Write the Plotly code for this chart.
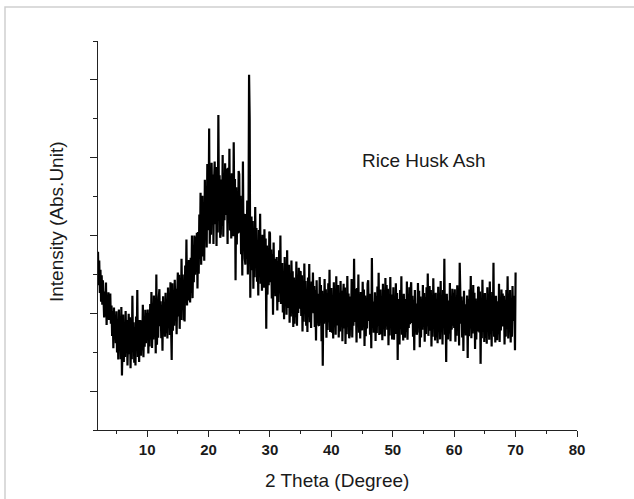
import plotly.graph_objects as go

# XRD scan of rice husk ash: 2-theta from 2.0 to 70.0 deg, step 0.1 deg
theta_start = 2.0
theta_step = 0.1

# Intensity (arbitrary units), one row per degree
intensity = [
    458, 372, 436, 352, 412, 330, 398, 322, 385, 318,   # 2
    289, 356, 292, 379, 270, 334, 284, 354, 283, 339,   # 3
    351, 273, 320, 242, 305, 210, 315, 241, 284, 223,   # 4
    305, 199, 278, 181, 310, 222, 284, 182, 316, 140,   # 5
    206, 297, 175, 256, 188, 306, 224, 283, 166, 270,   # 6
    299, 195, 290, 159, 259, 182, 345, 218, 277, 173,   # 7
    265, 166, 292, 206, 360, 188, 252, 175, 283, 215,   # 8
    191, 282, 205, 322, 187, 273, 214, 309, 223, 300,   # 9
    242, 310, 197, 301, 215, 324, 233, 355, 211, 283,   # 10
    233, 346, 264, 328, 197, 400, 219, 305, 237, 341,   # 11
    362, 267, 331, 236, 322, 204, 344, 254, 313, 240,   # 12
    353, 249, 330, 235, 366, 280, 344, 244, 380, 267,   # 13
    180, 377, 255, 336, 268, 386, 304, 363, 246, 350,   # 14
    405, 292, 399, 260, 368, 283, 440, 335, 400, 282,   # 15
    385, 279, 423, 332, 490, 320, 394, 333, 437, 366,   # 16
    328, 443, 353, 500, 339, 448, 380, 500, 399, 497,   # 17
    410, 507, 364, 509, 402, 554, 441, 610, 425, 529,   # 18
    602, 446, 577, 435, 643, 515, 618, 469, 684, 514,   # 19
    526, 775, 479, 607, 502, 687, 565, 657, 478, 639,   # 20
    690, 529, 676, 473, 627, 508, 810, 564, 655, 494,   # 21
    504, 644, 525, 707, 497, 630, 539, 686, 553, 672,   # 22
    632, 478, 674, 541, 723, 513, 611, 492, 660, 555,   # 23
    498, 740, 547, 645, 385, 624, 477, 610, 505, 666,   # 24
    657, 507, 602, 452, 582, 397, 690, 468, 556, 441,   # 25
    425, 555, 440, 590, 400, 530, 913, 800, 340, 540,   # 26
    549, 411, 537, 363, 495, 393, 573, 441, 519, 381,   # 27
    478, 346, 514, 400, 556, 376, 460, 358, 502, 412,   # 28
    366, 516, 408, 492, 260, 474, 348, 462, 372, 510,   # 29
    506, 380, 464, 338, 452, 296, 482, 362, 440, 344,   # 30
    362, 445, 307, 434, 329, 462, 351, 500, 324, 412,   # 31
    429, 302, 401, 285, 445, 340, 418, 296, 462, 324,   # 32
    314, 425, 276, 375, 292, 436, 336, 408, 265, 392,   # 33
    273, 384, 290, 433, 268, 373, 301, 417, 312, 406,   # 34
    408, 293, 398, 253, 363, 278, 428, 318, 383, 268,   # 35
    362, 252, 392, 297, 427, 277, 347, 262, 382, 307,   # 36
    405, 300, 370, 265, 360, 230, 385, 285, 350, 270,   # 37
    268, 393, 303, 373, 228, 358, 165, 348, 273, 388,   # 38
    287, 362, 237, 352, 257, 377, 277, 412, 252, 332,   # 39
    365, 250, 340, 235, 380, 285, 355, 245, 395, 270,   # 40
    273, 373, 238, 328, 253, 383, 293, 358, 228, 343,   # 41
    376, 261, 366, 221, 331, 246, 396, 286, 351, 236,   # 42
    243, 343, 258, 388, 238, 333, 268, 440, 278, 363,   # 43
    335, 225, 365, 270, 400, 250, 320, 235, 355, 280,   # 44
    256, 381, 291, 361, 216, 346, 241, 336, 261, 376,   # 45
    385, 280, 350, 245, 340, 210, 442, 265, 330, 250,   # 46
    279, 354, 229, 344, 249, 369, 269, 404, 244, 324,   # 47
    361, 246, 336, 231, 376, 281, 351, 241, 391, 266,   # 48
    373, 258, 363, 218, 328, 243, 393, 283, 348, 233,   # 49
    267, 367, 232, 322, 247, 377, 287, 352, 180, 337,   # 50
    330, 220, 360, 265, 395, 245, 315, 230, 350, 275,   # 51
    237, 337, 252, 382, 232, 327, 262, 367, 272, 357,   # 52
    380, 275, 345, 240, 335, 205, 360, 260, 325, 245,   # 53
    253, 378, 288, 358, 213, 343, 238, 333, 258, 373,   # 54
    277, 352, 227, 342, 247, 367, 267, 402, 242, 322,   # 55
    370, 255, 360, 215, 325, 240, 390, 280, 345, 230,   # 56
    353, 238, 328, 223, 368, 273, 343, 233, 383, 258,   # 57
    330, 220, 360, 265, 440, 245, 315, 175, 350, 275,   # 58
    233, 333, 248, 378, 228, 323, 258, 363, 268, 353,   # 59
    262, 362, 227, 317, 242, 372, 282, 347, 217, 430,   # 60
    378, 273, 343, 238, 333, 203, 358, 258, 323, 243,   # 61
    271, 346, 185, 336, 241, 361, 261, 396, 236, 316,   # 62
    248, 373, 283, 353, 208, 338, 233, 328, 253, 368,   # 63
    366, 251, 356, 170, 321, 236, 386, 276, 341, 226,   # 64
    352, 237, 327, 222, 367, 272, 342, 232, 382, 257,   # 65
    325, 215, 355, 260, 430, 240, 310, 225, 345, 270,   # 66
    231, 331, 246, 376, 226, 321, 256, 361, 266, 351,   # 67
    270, 345, 220, 335, 240, 360, 260, 395, 235, 315,   # 68
    260, 360, 225, 315, 240, 370, 280, 345, 330, 205,   # 69
    405,                                                # 70.0
]
two_theta = [round(theta_start + i * theta_step, 1) for i in range(len(intensity))]

x_ticks = [10, 20, 30, 40, 50, 60, 70, 80]
x_tick_labels = ["10", "20", "30", "40", "50", "60", "70", "80"]
sample_label = "Rice Husk Ash"
x_title = "2 Theta (Degree)"
y_title = "Intensity (Abs.Unit)"

FONT = "Arial, Liberation Sans, sans-serif"
TXT = "#1a1a1a"
AX = "#222222"

fig = go.Figure()
fig.add_trace(go.Scatter(
    x=two_theta, y=intensity, mode="lines",
    line=dict(color="black", width=2.2), showlegend=False, hoverinfo="skip",
))

fig.update_layout(
    width=634, height=499,
    margin=dict(l=98, r=57, t=41, b=69),
    paper_bgcolor="white", plot_bgcolor="white",
    font=dict(family=FONT, color=TXT),
    showlegend=False,
)
fig.update_xaxes(
    range=[2, 80], showgrid=False, zeroline=False,
    showline=True, linecolor=AX, linewidth=1.3,
    tickmode="array", tickvals=x_ticks, ticktext=x_tick_labels,
    ticks="outside", ticklen=6, tickwidth=1.3, tickcolor=AX,
    tickfont=dict(family=FONT, size=15, color=TXT, weight="bold"),
    minor=dict(dtick=5, tick0=0, ticks="outside", ticklen=3, tickwidth=1.3, tickcolor=AX, showgrid=False),
)
fig.update_yaxes(
    range=[0, 1000], showgrid=False, zeroline=False,
    showline=True, linecolor=AX, linewidth=1.3,
    tickmode="linear", tick0=100, dtick=200, showticklabels=False,
    ticks="outside", ticklen=7, tickwidth=1.3, tickcolor=AX,
    minor=dict(dtick=200, tick0=0, ticks="outside", ticklen=4, tickwidth=1.3, tickcolor=AX, showgrid=False),
)

fig.add_annotation(
    x=55.1, y=694, xref="x", yref="y", text=sample_label, showarrow=False,
    font=dict(family=FONT, size=19, color=TXT), xanchor="center", yanchor="middle",
)
fig.add_annotation(
    x=(337 - 98) / 479, y=(430 - 480) / 389, xref="paper", yref="paper",
    text=x_title, showarrow=False, xanchor="center", yanchor="middle",
    font=dict(family=FONT, size=19, color=TXT),
)
fig.add_annotation(
    x=(56 - 98) / 479, y=(430 - 222) / 389, xref="paper", yref="paper",
    text=y_title, showarrow=False, textangle=-90, xanchor="center", yanchor="middle",
    font=dict(family=FONT, size=19, color=TXT),
)

# light grey frame around the picture (top and left edges visible)
fig.add_shape(
    type="rect", xref="paper", yref="paper",
    x0=(5 - 98) / 479, x1=(700 - 98) / 479,
    y0=(430 - 560) / 389, y1=(430 - 7) / 389,
    line=dict(color="#cfcfcf", width=1.5), fillcolor="rgba(0,0,0,0)", layer="below",
)

fig.write_html("out.html")
